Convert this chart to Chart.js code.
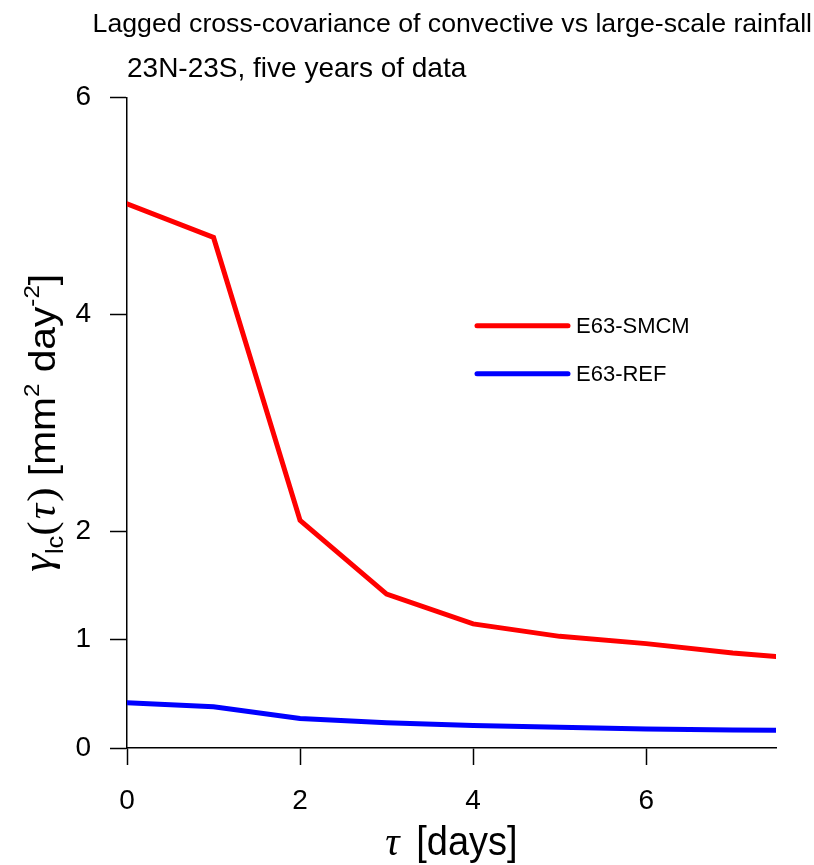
<!DOCTYPE html>
<html>
<head>
<meta charset="utf-8">
<script src="https://cdn.jsdelivr.net/npm/chart.js@4.4.1/dist/chart.umd.min.js"></script>
<style>
  html, body { margin: 0; padding: 0; background: #fff; }
  #wrap { width: 814px; height: 865px; }
</style>
</head>
<body>
<div id="wrap"><canvas id="myChart"></canvas></div>
<script>
// lag in days
var lags = [0, 1, 2, 3, 4, 5, 6, 7, 7.5];
// cross-covariance, mm^2 day^-2
var smcm = [5.02, 4.71, 2.10, 1.42, 1.145, 1.03, 0.963, 0.876, 0.845];
var ref = [0.418, 0.381, 0.272, 0.232, 0.207, 0.192, 0.176, 0.167, 0.164];
var seriesNames = ['E63-SMCM', 'E63-REF'];
var seriesColors = ['#ff0000', '#0000ff'];
var xTicks = [0, 2, 4, 6];
var yTicks = [0, 1, 2, 4, 6];

var SANS = '"Liberation Sans", Arial, sans-serif';
var SERIF = '"Liberation Serif", "Times New Roman", serif';

function points(ys) {
  return lags.map(function (x, i) { return { x: x, y: ys[i] }; });
}

// draw a row of text pieces centred on the origin, baseline at y = 0
function drawRuns(ctx, runs) {
  var total = 0;
  runs.forEach(function (r) {
    ctx.font = r.font;
    r.w = ctx.measureText(r.text).width;
    total += r.w + (r.gap || 0);
  });
  var x = -total / 2;
  ctx.textAlign = 'left';
  ctx.textBaseline = 'alphabetic';
  runs.forEach(function (r) {
    ctx.font = r.font;
    ctx.fillText(r.text, x, r.dy || 0);
    x += r.w + (r.gap || 0);
  });
}

var axisTitles = {
  id: 'axisTitles',
  afterDraw: function (chart) {
    var ctx = chart.ctx, area = chart.chartArea;
    ctx.save();
    ctx.fillStyle = '#000';

    // x axis title
    ctx.save();
    ctx.translate((area.left + area.right) / 2, area.bottom + 107);
    ctx.scale(1, 1.08);
    drawRuns(ctx, [
      { text: '\u03c4', font: 'italic 40px ' + SERIF, gap: 6 },
      { text: ' [days]', font: '38px ' + SANS }
    ]);
    ctx.restore();

    // y axis title
    ctx.save();
    ctx.translate(area.left - 72, (area.top + area.bottom) / 2);
    ctx.rotate(-Math.PI / 2);
    ctx.scale(1.1, 1);
    drawRuns(ctx, [
      { text: '\u03b3', font: 'italic 41px ' + SERIF, dy: -4 },
      { text: 'lc', font: '23px ' + SANS, dy: 8 },
      { text: '(', font: '39px ' + SERIF, gap: 2 },
      { text: '\u03c4', font: 'italic 39px ' + SERIF, gap: 2 },
      { text: ')', font: '39px ' + SERIF },
      { text: ' [mm', font: '37px ' + SANS },
      { text: '2', font: '22px ' + SANS, dy: -16 },
      { text: ' day', font: '37px ' + SANS },
      { text: '-2', font: '22px ' + SANS, dy: -16 },
      { text: ']', font: '37px ' + SANS }
    ]);
    ctx.restore();

    ctx.restore();
  }
};

var lineLegend = {
  id: 'lineLegend',
  afterDraw: function (chart) {
    var ctx = chart.ctx, area = chart.chartArea;
    var x0 = area.left + 350, x1 = area.left + 441;
    ctx.save();
    chart.data.datasets.forEach(function (ds, i) {
      var y = area.top + 228 + i * 48;
      ctx.strokeStyle = ds.borderColor;
      ctx.lineWidth = 5;
      ctx.lineCap = 'round';
      ctx.beginPath();
      ctx.moveTo(x0, y);
      ctx.lineTo(x1, y);
      ctx.stroke();
      ctx.fillStyle = '#000';
      ctx.font = '22px ' + SANS;
      ctx.textAlign = 'left';
      ctx.textBaseline = 'middle';
      ctx.fillText(ds.label, x1 + 8, y + 1);
    });
    ctx.restore();
  }
};

var tickFont = { family: SANS, size: 28, weight: 'normal' };

new Chart(document.getElementById('myChart').getContext('2d'), {
  type: 'line',
  data: {
    datasets: [
      {
        label: seriesNames[0],
        data: points(smcm),
        borderColor: seriesColors[0],
        borderWidth: 5,
        pointRadius: 0,
        borderCapStyle: 'round',
        tension: 0
      },
      {
        label: seriesNames[1],
        data: points(ref),
        borderColor: seriesColors[1],
        borderWidth: 5,
        pointRadius: 0,
        borderCapStyle: 'round',
        tension: 0
      }
    ]
  },
  options: {
    responsive: true,
    maintainAspectRatio: false,
    animation: false,
    layout: { padding: { top: 0, right: 2, bottom: 0, left: 0 } },
    plugins: {
      legend: { display: false },
      tooltip: { enabled: false },
      title: {
        display: true,
        text: 'Lagged cross-covariance of convective vs large-scale rainfall',
        fullSize: true,
        align: 'end',
        color: '#000',
        font: { family: SANS, size: 26.7, weight: 'normal' },
        padding: { top: 9, bottom: 0 }
      },
      subtitle: {
        display: true,
        text: '23N-23S, five years of data',
        fullSize: false,
        align: 'start',
        color: '#000',
        font: { family: SANS, size: 28, weight: 'normal' },
        padding: { top: 11, bottom: 12 }
      }
    },
    scales: {
      x: {
        type: 'linear',
        min: 0,
        max: 7.5,
        afterBuildTicks: function (s) { s.ticks = xTicks.map(function (v) { return { value: v }; }); },
        afterFit: function (s) { s.height = 117; },
        grid: { drawOnChartArea: false, drawTicks: true, tickLength: 17, tickColor: '#000', tickWidth: 1.5 },
        border: { display: true, color: '#000', width: 1.5 },
        ticks: { color: '#000', font: tickFont, padding: 19, maxRotation: 0 }
      },
      y: {
        type: 'linear',
        min: 0,
        max: 6,
        afterBuildTicks: function (s) { s.ticks = yTicks.map(function (v) { return { value: v }; }); },
        afterFit: function (s) { s.width = 127; },
        grid: { drawOnChartArea: false, drawTicks: true, tickLength: 17, tickColor: '#000', tickWidth: 1.5 },
        border: { display: true, color: '#000', width: 1.5 },
        ticks: { color: '#000', font: tickFont, padding: 19 }
      },
      // empty right-hand margin so the plot ends where the reference does
      margin: {
        type: 'linear',
        position: 'right',
        afterFit: function (s) { s.width = 36; },
        grid: { display: false, drawTicks: false },
        border: { display: false },
        ticks: { display: false }
      }
    }
  },
  plugins: [axisTitles, lineLegend]
});
</script>
</body>
</html>
